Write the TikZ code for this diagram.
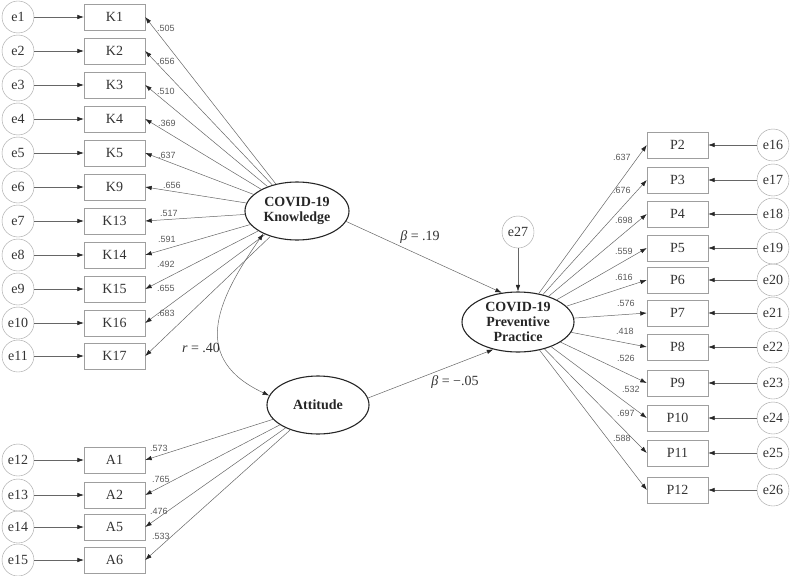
\documentclass[tikz,border=0pt]{standalone}
\usepackage{fontspec}
\setmainfont{Liberation Serif}
\newfontfamily\wtfont{Liberation Sans}
\usetikzlibrary{arrows.meta,shapes.geometric}

\tikzset{
  >={Latex[length=6.5pt,width=4.5pt,color=black!85]},
  obs/.style={draw=gray!75, minimum width=61pt, minimum height=26pt, inner sep=0pt,
    font=\fontsize{14}{14}\selectfont, text=black!80},
  err/.style={circle, draw=gray!75, minimum size=32pt, inner sep=0pt,
    font=\fontsize{14}{14}\selectfont, text=black!80},
  lat/.style={ellipse, draw=black!85, line width=1.1pt, inner sep=0pt, align=center,
    font=\bfseries\fontsize{14}{15}\selectfont, text=black!85},
  arr/.style={->, draw=gray!80!black, line width=0.5pt},
  wt/.style={anchor=west, inner sep=0pt, text=gray!70!black,
    font=\wtfont\fontsize{9}{9}\selectfont},
  coef/.style={font=\fontsize{14}{14}\selectfont, text=black!80}
}

\begin{document}
\begin{tikzpicture}[x=1pt,y=-1pt]
\useasboundingbox (0,0) rectangle (791,575);

% latent variables
\node[lat, minimum width=104pt, minimum height=58pt] (Kn) at (297,211) {COVID-19\\Knowledge};
\node[lat, minimum width=102pt, minimum height=58pt] (At) at (318,405) {Attitude};
\node[lat, minimum width=112pt, minimum height=60pt] (Pr) at (518,322) {COVID-19\\Preventive\\Practice};
\node[err] (e27) at (518,232) {e27};

% knowledge items
\foreach \n/\y/\w/\wx/\wy [count=\i] in {K1/17/.505/157/28, K2/51/.656/157/61,
  K3/85/.510/157/91, K4/119/.369/158/123, K5/153/.637/158/155, K9/187/.656/163/185,
  K13/221/.517/160/213, K14/255/.591/158/239, K15/289/.492/157/264,
  K16/323/.655/157/288, K17/356/.683/157/313}{
  \node[err] (e\i) at (18,\y) {e\i};
  \node[obs] (\n) at (114.5,\y) {\n};
  \draw[arr] (e\i) -- (\n);
  \draw[arr] (Kn) -- (\n.east);
  \node[wt] (w\n) at (\wx,\wy) {\w};
}

% attitude items
\foreach \n/\e/\y/\w/\wx/\wy in {A1/e12/460/.573/150/448, A2/e13/495/.765/152/479,
  A5/e14/527/.476/150/511, A6/e15/560/.533/152/536}{
  \node[err] (\e) at (18,\y) {\e};
  \node[obs] (\n) at (114.5,\y) {\n};
  \draw[arr] (\e) -- (\n);
  \draw[arr] (At) -- (\n.east);
  \node[wt] (w\n) at (\wx,\wy) {\w};
}

% practice items
\foreach \n/\e/\y/\w/\wx/\wy in {P2/e16/145/.637/613/157, P3/e17/180/.676/613/190,
  P4/e18/214/.698/615/220, P5/e19/248/.559/615/251, P6/e20/280/.616/615/277,
  P7/e21/313/.576/617/303, P8/e22/347/.418/616/331, P9/e23/383/.526/617/358,
  P10/e24/418/.532/622/389, P11/e25/453/.697/617/413, P12/e26/490/.588/613/438}{
  \node[err] (\e) at (773,\y) {\e};
  \node[obs] (\n) at (677.5,\y) {\n};
  \draw[arr] (\e) -- (\n);
  \draw[arr] (Pr) -- (\n.west);
  \node[wt] (w\n) at (\wx,\wy) {\w};
}

% structural paths
\draw[arr] (e27) -- (Pr);
\draw[arr] (Kn.-12) -- (Pr.119);
\draw[arr] (At.8) -- (Pr.-132);
\draw[<->, draw=gray!80!black, line width=0.5pt] (Kn.214) to[out=235,in=155,looseness=1.35] (At.169);
\node[coef] (bK) at (420,237) {\textit{β} = .19};
\node[coef] (bA) at (455,382) {\textit{β} = −.05};
\node[coef] (rKA) at (201,348) {\textit{r} = .40};
\end{tikzpicture}
\end{document}
